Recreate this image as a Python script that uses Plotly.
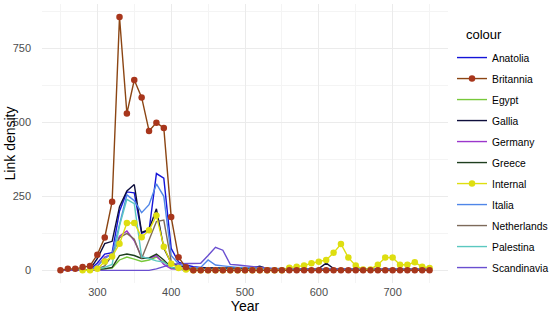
import plotly.graph_objects as go

years = [250, 260, 270, 280, 290, 300, 310, 320, 330, 340, 350, 360, 370, 380, 390,
         400, 410, 420, 430, 440, 450, 460, 470, 480, 490, 500, 510, 520, 530, 540,
         550, 560, 570, 580, 590, 600, 610, 620, 630, 640, 650, 660, 670, 680, 690,
         700, 710, 720, 730, 740, 750]

# one value per year, None where the series has no data
anatolia = [0, 0, 0, 0, 2, 25, 55, 60, 200, 265, 262, 125, 135, 327, 311,
            74, 28, 18, 12, 10, 8, 8, 5, 5, 5, 5, 5, 5, 5, 5,
            5, 3, 3, 3, 3, 3, 3, 3, 3, 3, 3, 3, 5, 5, 5,
            5, 5, 5, 4, 4, 4]
britannia = [0, 5, 5, 11, 15, 53, 111, 232, 856, 530, 643, 584, 471, 499, 481,
             180, 44, 10, 0, 0, 0, 0, 0, 0, 0, 0, 0, 0, 0, 0,
             0, 0, 0, 0, 0, 0, 0, 0, 0, 0, 0, 0, 0, 0, 0,
             0, 0, 0, 0, 0, 0]
egypt = [0, 0, 0, 0, 1, 3, 5, 8, 35, 45, 38, 30, 35, 45, 28,
         8, 4, 2, 2, 2, 2, 2, 2, 2, 2, 2, 2, 2, 2, 2,
         2, 2, 2, 2, 2, 2, 2, 2, 2, 2, 2, 2, 2, 2, 2,
         2, 2, 2, 2, 2, 2]
gallia = [0, 0, 0, 0, 3, 40, 90, 98, 215, 268, 290, 128, 138, 208, 75,
          25, 15, 10, 8, 8, 8, 8, 8, 8, 8, 8, 8, 14, 6, 5,
          5, 5, 6, 4, 4, 6, 24, 6, 5, 4, 3, 2, 2, 3, 4,
          4, 3, 3, 3, 3, 3]
germany = [0, 0, 0, 0, 0, 15, 45, 55, 115, 133, 100, 45, 40, 50, 20,
           5, 3, 1, 1, 1, 1, 1, 1, 1, 1, 1, 1, 1, 1, 1,
           1, 1, 1, 1, 1, 1, 1, 1, 1, 1, 1, 1, 1, 1, 1,
           1, 1, 1, 1, 1, 1]
greece = [0, 0, 0, 0, 1, 3, 5, 10, 50, 55, 50, 40, 42, 55, 35,
          10, 4, 2, 2, 2, 2, 2, 2, 2, 2, 2, 2, 2, 2, 2,
          2, 2, 2, 2, 2, 2, 2, 2, 2, 2, 2, 2, 2, 2, 2,
          2, 2, 2, 2, 2, 2]
internal = [None, None, None, 0, 0, 5, 30, 47, 90, 160, 160, 112, 135, 185, 80,
            22, 8, 3, 0, 0, 0, 0, 0, 0, 0, 0, 0, 0, 0, 0,
            0, 9, 12, 16, 24, 29, 35, 59, 89, 43, 16, 3, 3, 19, 43,
            43, 19, 19, 27, 12, 8]
italia = [0, 0, 0, 0, 0, 15, 40, 55, 160, 255, 235, 195, 222, 292, 250,
          50, 22, 12, 8, 10, 35, 18, 15, 12, 10, 10, 8, 8, 7, 6,
          6, 5, 5, 5, 5, 5, 5, 5, 5, 5, 5, 4, 4, 4, 4,
          4, 4, 4, 4, 4, 4]
netherlands = [0, 0, 0, 0, 0, 5, 15, 50, 110, 125, 105, 40, 100, 165, 170,
               30, 5, 1, 1, 1, 1, 1, 1, 1, 1, 1, 1, 1, 1, 1,
               1, 1, 1, 1, 1, 1, 1, 1, 1, 1, 1, 1, 1, 1, 1,
               1, 1, 1, 1, 1, 1]
palestina = [0, 0, 0, 0, 0, 5, 10, 20, 150, 240, 225, 45, 40, 32, 28,
             10, 5, 3, 3, 3, 3, 3, 3, 3, 3, 3, 3, 3, 3, 3,
             3, 3, 3, 3, 3, 3, 3, 3, 3, 3, 3, 3, 3, 3, 3,
             3, 3, 3, 3, 3, 3]
scandinavia = [0, 0, 0, 0, 0, 0, 0, 0, 0, 0, 0, 0, 0, 5, 12,
               20, 22, 22, 22, 24, 50, 78, 68, 20, 18, 16, 14, 12, 8, 5,
               4, 3, 3, 3, 3, 3, 3, 3, 3, 3, 3, 3, 3, 3, 3,
               3, 3, 3, 3, 3, 3]

series = [
    ("Anatolia", anatolia, "#1414d8", False),
    ("Egypt", egypt, "#78c83a", False),
    ("Gallia", gallia, "#0e0e3c", False),
    ("Germany", germany, "#9c36cc", False),
    ("Greece", greece, "#1f3f1f", False),
    ("Italia", italia, "#4f86e8", False),
    ("Netherlands", netherlands, "#7d6a5a", False),
    ("Palestina", palestina, "#5bc8c0", False),
    ("Scandinavia", scandinavia, "#6a4fd0", False),
    ("Internal", internal, "#dede10", True),
    ("Britannia", britannia, "#8b4513", True),
]
order = sorted(s[0] for s in series)

fig = go.Figure()
for name, vals, col, pts in series:
    if pts:
        mcol = "#a8361c" if name == "Britannia" else col
        fig.add_trace(go.Scatter(x=years, y=vals, name=name, mode="lines+markers",
                                 line=dict(color=col, width=1.4),
                                 marker=dict(color=mcol, size=6.5),
                                 legendgroup=name,
                                 legendrank=order.index(name) + 1))
    else:
        fig.add_trace(go.Scatter(x=years, y=vals, name=name, mode="lines",
                                 line=dict(color=col, width=1.4),
                                 legendgroup=name,
                                 legendrank=order.index(name) + 1))

axis_font = dict(family="Liberation Sans", size=11, color="#4d4d4d")
fig.update_layout(
    width=550, height=314,
    margin=dict(l=42, r=102, t=4, b=31, autoexpand=False),
    paper_bgcolor="white", plot_bgcolor="white",
    font=dict(family="Liberation Sans", color="black"),
    showlegend=True,
    legend=dict(font=dict(size=10.3), xref="paper", yref="paper",
                x=1.0099, y=0.860, xanchor="left", yanchor="top",
                maxheight=300, tracegroupgap=2, itemwidth=30,
                bgcolor="rgba(0,0,0,0)"),
    xaxis=dict(range=[225, 775], tickvals=[300, 400, 500, 600, 700],
               showgrid=True, gridcolor="#ebebeb", gridwidth=1,
               minor=dict(tickvals=[250, 350, 450, 550, 650, 750], showgrid=True,
                          gridcolor="#f4f4f4", gridwidth=0.6),
               zeroline=False, showline=False, ticks="", automargin=False,
               tickfont=axis_font, ticklabelstandoff=1,
               title=dict(text="Year", font=dict(size=14), standoff=0)),
    yaxis=dict(range=[-42.8, 899.8], tickvals=[0, 250, 500, 750],
               showgrid=True, gridcolor="#ebebeb", gridwidth=1,
               minor=dict(tickvals=[125, 375, 625, 875], showgrid=True,
                          gridcolor="#f4f4f4", gridwidth=0.6),
               zeroline=False, showline=False, ticks="", automargin=False,
               tickfont=axis_font, ticklabelstandoff=10),
    annotations=[
        dict(text="Link density", textangle=-90, showarrow=False,
             xref="paper", yref="paper", x=-0.079, y=0.5,
             xanchor="center", yanchor="middle", font=dict(size=14)),
        dict(text="colour", showarrow=False, xref="paper", yref="paper",
             x=1.0396, y=0.889, xanchor="left", yanchor="middle",
             font=dict(size=13)),
    ],
)

fig.write_html("out.html", config={"displayModeBar": False},
               post_script="document.body.style.margin='0';")
